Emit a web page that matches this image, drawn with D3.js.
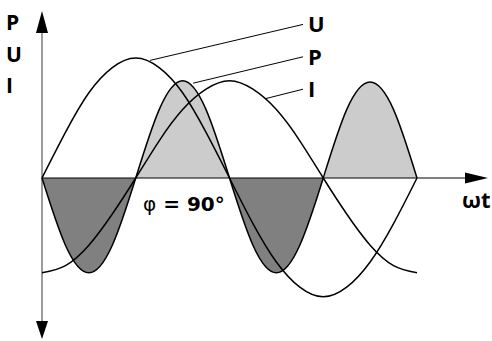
<!DOCTYPE html>
<html>
<head>
<meta charset="utf-8">
<script src="https://cdn.jsdelivr.net/npm/d3@7"></script>
<style>
  html, body { margin: 0; padding: 0; background: #fff; }
  svg { display: block; }
  text { font-family: "Open Sans", "DejaVu Sans", sans-serif; font-weight: 700; fill: #000; }
</style>
</head>
<body>
<svg id="chart" width="492" height="341"></svg>
<script>
// phase angle ωt in degrees (one full period)
const phase = [0, 22.5, 45, 67.5, 90, 112.5, 135, 157.5, 180, 202.5, 225, 247.5, 270, 292.5, 315, 337.5, 360];
// voltage U (relative)
const uValues = [0, 0.38, 0.71, 0.92, 1.0, 0.92, 0.71, 0.38, 0, -0.38, -0.70, -0.91, -0.99, -0.91, -0.70, -0.38, 0];
// current I (lags by 90°)
const iValues = [-0.79, -0.73, -0.56, -0.30, 0, 0.31, 0.57, 0.74, 0.81, 0.74, 0.57, 0.31, 0, -0.30, -0.56, -0.73, -0.79];
// power P = U·I
const pValues = [0, -0.56, -0.79, -0.56, 0, 0.57, 0.81, 0.57, 0, -0.56, -0.79, -0.56, 0, 0.57, 0.80, 0.57, 0];

// series labels with leader lines: [label, from (deg, value), to (deg, value)]
const seriesLabels = ["U", "P", "I"];
const leaderFrom = [[103.7, 0.98], [145, 0.79], [214, 0.66]];
const leaderTo = [[250.6, 1.28], [250.6, 1.01], [250.6, 0.74]];
const axisLabelsY = ["P", "U", "I"];
const xAxisLabel = "ωt";
const phaseLabel = "= 90°";
const phaseSymbol = "φ";

const svg = d3.select("#chart");
const W = 492, H = 341;

const x = d3.scaleLinear().domain([0, 360]).range([42, 417]);
const y = d3.scaleLinear().domain([-1, 1]).range([298, 58]);
const x0 = x(0), y0 = y(0);

const uData = phase.map((p, i) => ({p, v: uValues[i]}));
const iData = phase.map((p, i) => ({p, v: iValues[i]}));
const pData = phase.map((p, i) => ({p, v: pValues[i]}));

const curve = d3.curveNatural;
const line = d3.line().x(d => x(d.p)).y(d => y(d.v)).curve(curve);
const area = d3.area().x(d => x(d.p)).y0(y0).y1(d => y(d.v)).curve(curve);

const defs = svg.append("defs");
defs.append("clipPath").attr("id", "above")
  .append("rect").attr("x", 0).attr("y", 0).attr("width", W).attr("height", y0);
defs.append("clipPath").attr("id", "below")
  .append("rect").attr("x", 0).attr("y", y0).attr("width", W).attr("height", H - y0);

// filled power lobes
svg.append("path").datum(pData).attr("d", area)
  .attr("fill", "#cccccc").attr("clip-path", "url(#above)");
svg.append("path").datum(pData).attr("d", area)
  .attr("fill", "#808080").attr("clip-path", "url(#below)");

// y axis (gray line, black arrowheads)
svg.append("line").attr("x1", x0).attr("x2", x0).attr("y1", 30).attr("y2", 324)
  .attr("stroke", "#7a7a7a").attr("stroke-width", 1.5);
svg.append("path").attr("d", d3.line()([[x0, 11], [x0 - 6, 33], [x0 + 6, 33]]) + "Z").attr("fill", "#000");
svg.append("path").attr("d", d3.line()([[x0, 339], [x0 - 6, 321], [x0 + 6, 321]]) + "Z").attr("fill", "#000");

// x axis
svg.append("line").attr("x1", x0).attr("x2", 468).attr("y1", y0).attr("y2", y0)
  .attr("stroke", "#000").attr("stroke-width", 1.2);
svg.append("path").attr("d", d3.line()([[488, y0], [465, y0 - 5.5], [465, y0 + 5.5]]) + "Z").attr("fill", "#000");

// curves
[uData, iData, pData].forEach(d => {
  svg.append("path").datum(d).attr("d", line)
    .attr("fill", "none").attr("stroke", "#000").attr("stroke-width", 1.5);
});

// leader lines & labels
seriesLabels.forEach((lab, k) => {
  const f = leaderFrom[k], t = leaderTo[k];
  svg.append("line")
    .attr("x1", x(f[0])).attr("y1", y(f[1]))
    .attr("x2", x(t[0])).attr("y2", y(t[1]))
    .attr("stroke", "#000").attr("stroke-width", 1);
  svg.append("text").attr("x", x(t[0]) + 5).attr("y", y(t[1]) + 8)
    .attr("font-size", 22).text(lab);
});

// y axis labels
const yLabBase = [30, 62, 93];
axisLabelsY.forEach((lab, k) => {
  svg.append("text").attr("x", 6).attr("y", yLabBase[k]).attr("font-size", 21).text(lab);
});

// x axis label
svg.append("text").attr("x", 462).attr("y", 208).attr("font-size", 22).text(xAxisLabel);

// phase annotation
const ph = svg.append("text").attr("x", 143).attr("y", 211).attr("font-size", 20)
  .style("font-family", "'DejaVu Sans', sans-serif");
ph.append("tspan").attr("font-weight", 400).text(phaseSymbol);
ph.append("tspan").text(" " + phaseLabel);
</script>
</body>
</html>
